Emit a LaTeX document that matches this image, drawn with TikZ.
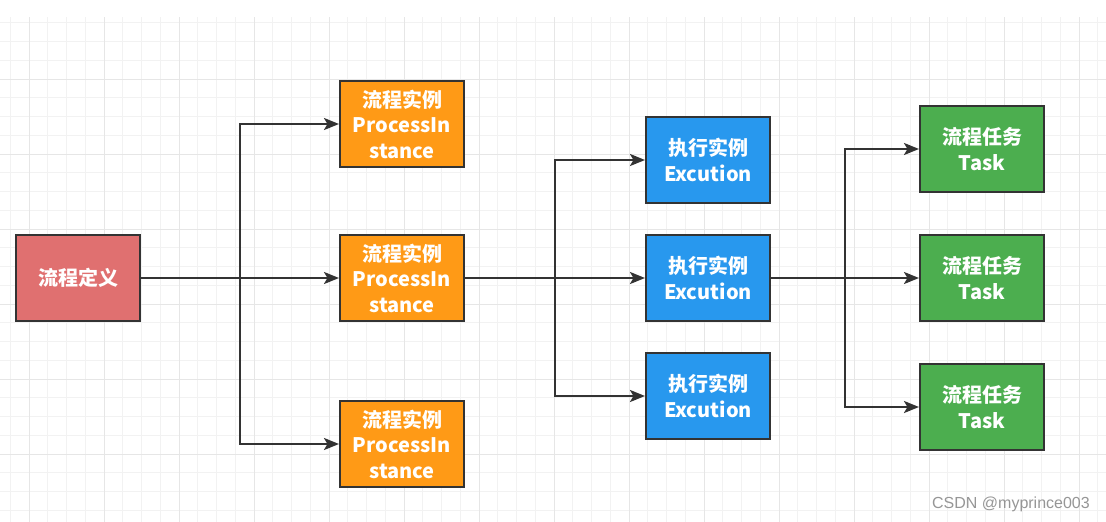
\documentclass[tikz,border=0pt]{standalone}
\usepackage{fontspec}
\setmainfont{Noto Sans CJK SC}
\newfontfamily\wmfont{Liberation Sans}
\usetikzlibrary{arrows.meta}
\definecolor{cred}{HTML}{E07070}
\definecolor{corange}{HTML}{FF9A16}
\definecolor{cblue}{HTML}{2898EE}
\definecolor{cgreen}{HTML}{4CAE4F}
\definecolor{cedge}{HTML}{333333}
\definecolor{gminor}{HTML}{F2F2F2}
\definecolor{gmajor}{HTML}{E6E6E6}
\definecolor{cwm}{HTML}{969696}
\begin{document}
\begin{tikzpicture}[x=1pt,y=-1pt,
  box/.style={draw=cedge, line width=2.4pt, minimum width=123.6pt, minimum height=85.6pt,
    inner sep=0pt, text=white, align=center, font=\bfseries\fontsize{20}{25.5}\selectfont},
  redbox/.style={box, fill=cred},
  orangebox/.style={box, fill=corange},
  bluebox/.style={box, fill=cblue},
  greenbox/.style={box, fill=cgreen},
  link/.style={draw=cedge, line width=2.4pt},
  arr/.style={link, -{Stealth[length=15pt,width=12pt,inset=3.5pt]}},
  gridminor/.style={draw=gminor, line width=1pt},
  gridmajor/.style={draw=gmajor, line width=1pt}]
\useasboundingbox (0,0) rectangle (1106,522);
\fill[white] (0,0) rectangle (1106,522);
% grid
\foreach \k in {0,...,58} { \draw[gridminor] ({10.25+18.75*\k},17) -- ({10.25+18.75*\k},522); }
\foreach \k in {0,...,26} { \draw[gridminor] (0,{22.75+18.75*\k}) -- (1106,{22.75+18.75*\k}); }
\foreach \k in {0,...,14} { \draw[gridmajor] ({29+75*\k},17) -- ({29+75*\k},522); }
\foreach \k in {0,...,5} { \draw[gridmajor] (0,{79+75*\k}) -- (1106,{79+75*\k}); }
% nodes
\node[redbox] (def) at (78,278) {流程定义};
\node[orangebox] (pi1) at (402,124) {流程实例\\ProcessIn\\stance};
\node[orangebox] (pi2) at (402,278) {流程实例\\ProcessIn\\stance};
\node[orangebox] (pi3) at (402,444) {流程实例\\ProcessIn\\stance};
\node[bluebox] (e1) at (708,160) {执行实例\\Excution};
\node[bluebox] (e2) at (708,278) {执行实例\\Excution};
\node[bluebox] (e3) at (708,396) {执行实例\\Excution};
\node[greenbox] (t1) at (982,149) {流程任务\\Task};
\node[greenbox] (t2) at (982,278) {流程任务\\Task};
\node[greenbox] (t3) at (982,407) {流程任务\\Task};
% junctions
\coordinate (j1) at (240,278);
\coordinate (j2) at (555,278);
\coordinate (j3) at (845,278);
% connectors
\draw[arr] (def.east) -- (pi2.west);
\draw[arr] (j1) |- (pi1.west);
\draw[arr] (j1) |- (pi3.west);
\draw[arr] (pi2.east) -- (e2.west);
\draw[arr] (j2) |- (e1.west);
\draw[arr] (j2) |- (e3.west);
\draw[arr] (e2.east) -- (t2.west);
\draw[arr] (j3) |- (t1.west);
\draw[arr] (j3) |- (t3.west);
% watermark
\node[font=\wmfont\fontsize{16}{16}\selectfont, text=cwm, anchor=base, inner sep=0pt] (wm) at (1011,508) {CSDN @myprince003};
\end{tikzpicture}
\end{document}
